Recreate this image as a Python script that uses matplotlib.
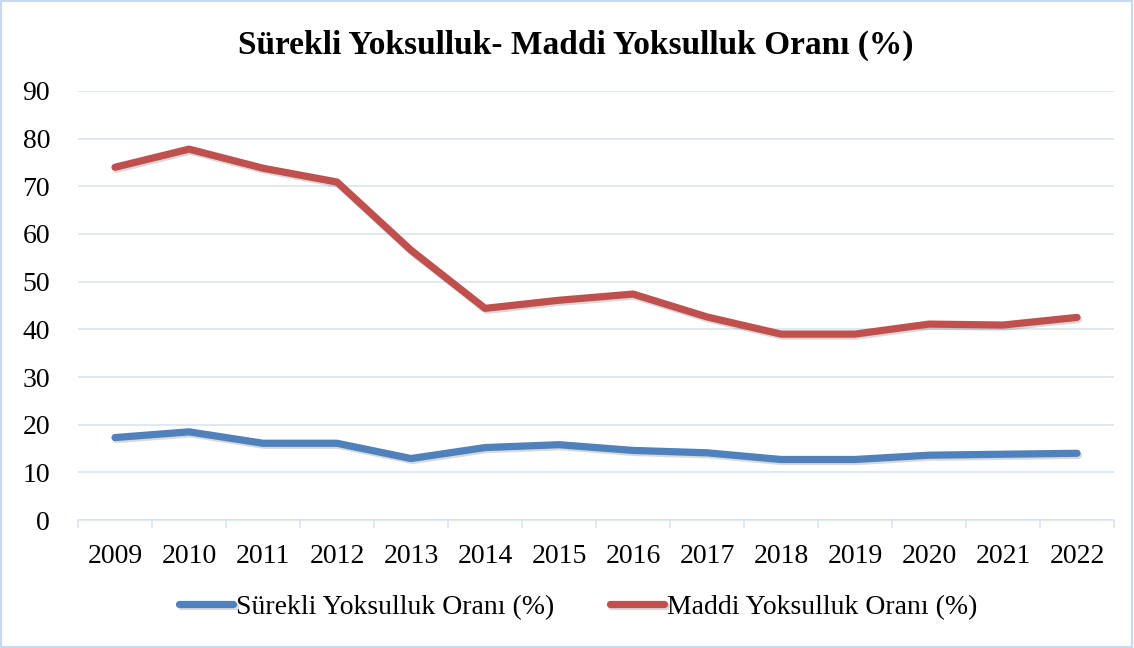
import matplotlib
matplotlib.use('Agg')
import matplotlib.pyplot as plt
import matplotlib.patheffects as pe
from matplotlib.patches import Rectangle
import numpy as np

years = ['2009', '2010', '2011', '2012', '2013', '2014', '2015',
         '2016', '2017', '2018', '2019', '2020', '2021', '2022']
surekli = [17.3, 18.5, 16.1, 16.1, 12.9, 15.2, 15.8,
           14.6, 14.1, 12.7, 12.7, 13.6, 13.8, 14.0]
maddi = [74.0, 77.8, 73.8, 70.9, 56.6, 44.4, 46.1,
         47.4, 42.6, 39.0, 39.0, 41.1, 40.9, 42.5]
yticks = [0, 10, 20, 30, 40, 50, 60, 70, 80, 90]

title = 'Sürekli Yoksulluk- Maddi Yoksulluk Oranı (%)'
label1 = 'Sürekli Yoksulluk Oranı (%)'
label2 = 'Maddi Yoksulluk Oranı (%)'

blue = '#4f81bd'
red = '#c0504d'
gridc = '#d9e4f1'

plt.rcParams['font.family'] = ['Liberation Serif', 'DejaVu Serif']
fontsize = 20

fig = plt.figure(figsize=(11.34, 6.48), dpi=100)
ax = fig.add_axes([0.0688, 0.1975, 0.9136, 0.6621])

# border round the figure
fig.patches.append(Rectangle((0.001, 0.001), 0.997, 0.997, transform=fig.transFigure,
                             fill=False, edgecolor='#c6d9f1', linewidth=1.5))

x = np.arange(len(years))
shadow = [pe.SimpleLineShadow(offset=(1, -1.5), alpha=0.15, shadow_color='k'), pe.Normal()]
ax.plot(x, surekli, color=blue, lw=5.2, solid_capstyle='round', solid_joinstyle='round',
        label=label1, path_effects=shadow)
ax.plot(x, maddi, color=red, lw=5.2, solid_capstyle='round', solid_joinstyle='round',
        label=label2, path_effects=shadow)

ax.set_xlim(-0.5, len(years) - 0.5)
ax.set_ylim(0, 90)
ax.set_yticks(yticks)
ax.set_yticklabels([str(v) for v in yticks], fontsize=fontsize)
ax.set_xticks(x)
ax.set_xticklabels(years, fontsize=fontsize)
ax.set_xticks(np.arange(len(years) + 1) - 0.5, minor=True)
ax.tick_params(axis='x', which='major', length=0, pad=17)
ax.tick_params(axis='x', which='minor', length=6, color=gridc, width=1.2)
ax.tick_params(axis='y', length=0, pad=20)
ax.grid(axis='y', color=gridc, lw=1.2)
ax.set_axisbelow(True)
for s in ['top', 'right', 'left']:
    ax.spines[s].set_visible(False)
ax.spines['bottom'].set_color(gridc)
ax.spines['bottom'].set_linewidth(1.2)

fig.text(0.508, 1 - 45 / 648, title, ha='center', va='center',
         fontsize=24, fontweight='bold')

fig.legend(loc='center', bbox_to_anchor=(0.51, 0.063), ncol=2, frameon=False,
           fontsize=fontsize, handlelength=1.95, handletextpad=0.1, columnspacing=2.0)

plt.savefig('out.png', dpi=100)
